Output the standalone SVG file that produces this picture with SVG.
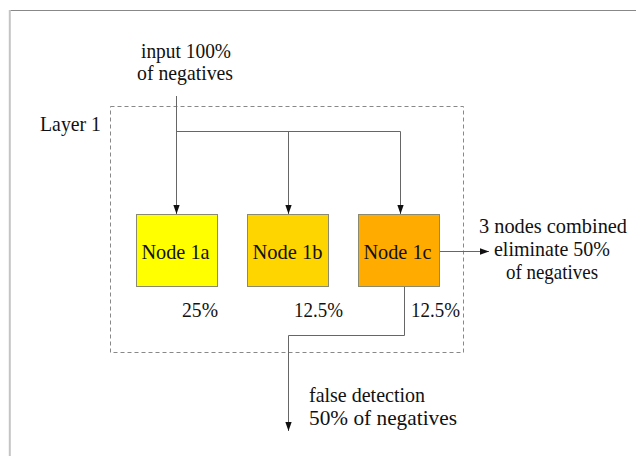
<svg xmlns="http://www.w3.org/2000/svg" width="636" height="456" viewBox="0 0 636 456">
  <style>
    text { font-family: "Liberation Serif", "Times New Roman", serif; font-size: 21px; fill: #111; }
    .mid { text-anchor: middle; }
    .node { stroke: #8a8a70; stroke-width: 1; }
    .wire { fill: none; stroke: #666; stroke-width: 1; }
  </style>
  <defs>
    <marker id="arrow" viewBox="0 0 10 10" refX="10" refY="5" markerWidth="9" markerHeight="9" markerUnits="userSpaceOnUse" orient="auto">
      <path d="M0,1.5 L10,5 L0,8.5 Z" fill="#111"/>
    </marker>
  </defs>

  <rect width="636" height="456" fill="#fff"/>

  <!-- page frame -->
  <line x1="9" y1="10.5" x2="636" y2="10.5" stroke="#888" stroke-width="1.2"/>
  <line x1="9.8" y1="10" x2="9.8" y2="456" stroke="#c4c4c4" stroke-width="2"/>

  <!-- layer boundary -->
  <g id="layer1">
    <rect x="110.5" y="106.5" width="353" height="246" fill="none" stroke="#888" stroke-width="1" stroke-dasharray="4,3"/>
    <text x="40" y="131" textLength="61" lengthAdjust="spacingAndGlyphs">Layer 1</text>
  </g>

  <g id="connectors">
    <path class="wire" d="M176.5,96 V214" marker-end="url(#arrow)"/>
    <path class="wire" d="M176.5,131.5 H400.5 V214"/>
    <path class="wire" d="M288.5,131.5 V214" marker-end="url(#arrow)"/>
    <path class="wire" d="M400.5,180 V214" marker-end="url(#arrow)"/>
    <path class="wire" d="M440,251.5 H489" marker-end="url(#arrow)"/>
    <path class="wire" d="M404.5,287 V335.5 H288.5 V431" marker-end="url(#arrow)"/>
  </g>

  <g id="input">
    <text class="mid" x="186" y="58" textLength="90" lengthAdjust="spacingAndGlyphs">input 100%</text>
    <text class="mid" x="185" y="80" textLength="96" lengthAdjust="spacingAndGlyphs">of negatives</text>
  </g>

  <g id="node1a">
    <rect class="node" x="136.5" y="214.5" width="81" height="72" fill="#ffff00"/>
    <text class="mid" x="175.5" y="259" textLength="68" lengthAdjust="spacingAndGlyphs">Node 1a</text>
    <text x="182" y="317" textLength="36" lengthAdjust="spacingAndGlyphs">25%</text>
  </g>

  <g id="node1b">
    <rect class="node" x="247.5" y="214.5" width="81" height="72" fill="#ffd500"/>
    <text class="mid" x="287.5" y="259" textLength="70" lengthAdjust="spacingAndGlyphs">Node 1b</text>
    <text x="294" y="317" textLength="49" lengthAdjust="spacingAndGlyphs">12.5%</text>
  </g>

  <g id="node1c">
    <rect class="node" x="358.5" y="214.5" width="81" height="72" fill="#ffab00"/>
    <text class="mid" x="397.5" y="259" textLength="68" lengthAdjust="spacingAndGlyphs">Node 1c</text>
    <text x="411" y="317" textLength="49" lengthAdjust="spacingAndGlyphs">12.5%</text>
  </g>

  <g id="combined">
    <text class="mid" x="553" y="233" textLength="148" lengthAdjust="spacingAndGlyphs">3 nodes combined</text>
    <text class="mid" x="552" y="256" textLength="116" lengthAdjust="spacingAndGlyphs">eliminate 50%</text>
    <text class="mid" x="552" y="279" textLength="92" lengthAdjust="spacingAndGlyphs">of negatives</text>
  </g>

  <g id="false-detection">
    <text x="309" y="402" textLength="116" lengthAdjust="spacingAndGlyphs">false detection</text>
    <text x="309" y="425" textLength="148" lengthAdjust="spacingAndGlyphs">50% of negatives</text>
  </g>
</svg>
